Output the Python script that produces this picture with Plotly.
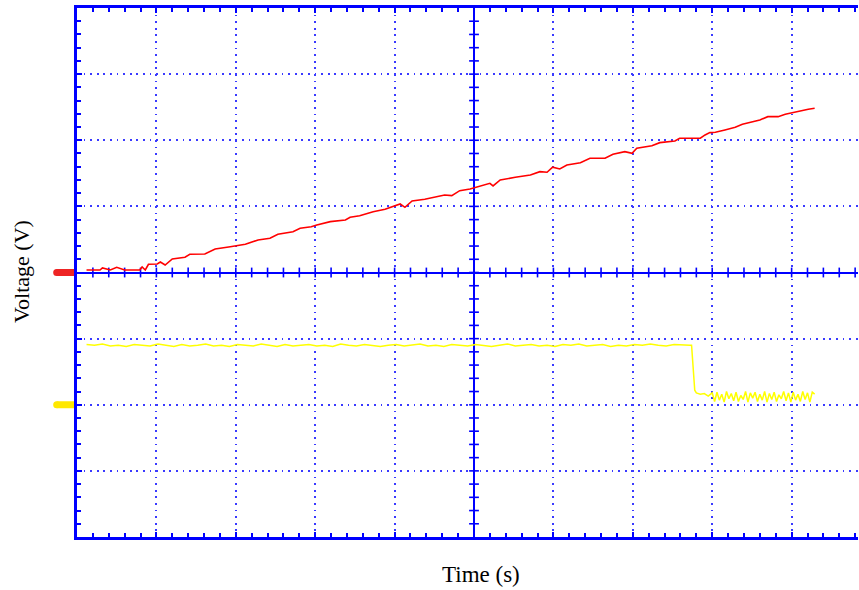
import numpy as np
import plotly.graph_objects as go

# Screen is 10 horizontal x 8 vertical divisions, centred on (0, 0).
# Values below are in divisions.

# Channel 1 (red): ramp
ch1_t = [-4.88, -4.71, -4.68, -4.58, -4.50, -4.40, -4.21, -4.18, -4.14, -4.10,
         -3.99, -3.95, -3.89, -3.80, -3.64, -3.58, -3.39, -3.26, -3.07, -2.98,
         -2.88, -2.72, -2.57, -2.47, -2.28, -2.19, -2.05, -1.98, -1.81, -1.62,
         -1.56, -1.44, -1.27, -1.12, -1.03, -0.93, -0.87, -0.78, -0.62, -0.49,
         -0.37, -0.28, -0.18, -0.05, 0.08, 0.20, 0.24, 0.33, 0.52, 0.71,
         0.83, 0.92, 0.99, 1.08, 1.17, 1.34, 1.46, 1.65, 1.75, 1.90,
         1.99, 2.05, 2.24, 2.34, 2.53, 2.59, 2.85, 2.91, 2.97, 3.04,
         3.16, 3.29, 3.38, 3.48, 3.60, 3.70, 3.83, 3.92, 4.01, 4.11,
         4.21, 4.29]
ch1_v = [0.038, 0.038, 0.068, 0.038, 0.079, 0.038, 0.038, 0.083, 0.038, 0.124,
         0.129, 0.159, 0.113, 0.204, 0.230, 0.275, 0.280, 0.356, 0.390, 0.405,
         0.427, 0.492, 0.517, 0.578, 0.617, 0.669, 0.693, 0.719, 0.769, 0.794,
         0.835, 0.859, 0.920, 0.956, 0.995, 1.036, 0.986, 1.082, 1.107, 1.138,
         1.172, 1.162, 1.238, 1.263, 1.313, 1.349, 1.309, 1.399, 1.440, 1.475,
         1.525, 1.516, 1.592, 1.566, 1.626, 1.661, 1.728, 1.728, 1.788, 1.828,
         1.803, 1.879, 1.918, 1.964, 1.989, 2.030, 2.030, 2.080, 2.115, 2.121,
         2.156, 2.197, 2.242, 2.272, 2.307, 2.357, 2.357, 2.393, 2.418, 2.443,
         2.469, 2.484]

# Channel 2 (yellow): high level, then a step down
ch2_t = [-4.88, -4.78, -4.68, -4.58, -4.48, -4.38, -4.28, -4.18, -4.08, -3.98,
         -3.88, -3.78, -3.68, -3.58, -3.48, -3.38, -3.28, -3.18, -3.08, -2.98,
         -2.88, -2.78, -2.68, -2.58, -2.48, -2.38, -2.28, -2.18, -2.08, -1.98,
         -1.88, -1.78, -1.68, -1.58, -1.48, -1.38, -1.28, -1.18, -1.08, -0.98,
         -0.88, -0.78, -0.68, -0.58, -0.48, -0.38, -0.28, -0.18, -0.08, 0.02,
         0.12, 0.22, 0.32, 0.42, 0.52, 0.62, 0.72, 0.82, 0.92, 1.02,
         1.12, 1.22, 1.32, 1.42, 1.52, 1.62, 1.72, 1.82, 1.92, 2.02,
         2.12, 2.22, 2.32, 2.42, 2.52, 2.62, 2.72,
         2.74, 2.76, 2.78, 2.80, 2.85, 2.90, 2.95,
         3.00, 3.03, 3.06, 3.09, 3.12, 3.15, 3.18, 3.21, 3.24, 3.27,
         3.30, 3.33, 3.36, 3.39, 3.42, 3.45, 3.48, 3.51, 3.54, 3.57,
         3.60, 3.63, 3.66, 3.69, 3.72, 3.75, 3.78, 3.81, 3.84, 3.87,
         3.90, 3.93, 3.96, 3.99, 4.02, 4.05, 4.08, 4.11, 4.14, 4.17,
         4.20, 4.23, 4.26, 4.29]
ch2_v = [-1.09, -1.10, -1.08, -1.11, -1.10, -1.12, -1.09, -1.10, -1.11, -1.08,
         -1.10, -1.12, -1.09, -1.11, -1.10, -1.08, -1.11, -1.10, -1.12, -1.09,
         -1.10, -1.11, -1.08, -1.10, -1.12, -1.09, -1.11, -1.10, -1.09, -1.11,
         -1.10, -1.12, -1.08, -1.10, -1.11, -1.09, -1.10, -1.12, -1.10, -1.09,
         -1.11, -1.10, -1.08, -1.11, -1.10, -1.12, -1.09, -1.10, -1.11, -1.09,
         -1.10, -1.12, -1.10, -1.08, -1.11, -1.10, -1.09, -1.11, -1.10, -1.12,
         -1.09, -1.10, -1.08, -1.11, -1.10, -1.09, -1.12, -1.10, -1.11, -1.09,
         -1.10, -1.08, -1.10, -1.11, -1.09, -1.10, -1.10,
         -1.10, -1.45, -1.78, -1.82, -1.84, -1.83, -1.87,
         -1.82, -1.95, -1.81, -1.93, -1.84, -1.96, -1.80, -1.91, -1.83, -1.94,
         -1.81, -1.95, -1.86, -1.92, -1.80, -1.96, -1.82, -1.90, -1.81, -1.95,
         -1.84, -1.93, -1.80, -1.96, -1.83, -1.92, -1.81, -1.95, -1.85, -1.91,
         -1.80, -1.94, -1.82, -1.96, -1.81, -1.93, -1.84, -1.95, -1.80, -1.92,
         -1.82, -1.96, -1.81, -1.84]

# Ground reference levels of the two channels
ch1_ground = 0
ch2_ground = -2

BLUE = "#0000ff"
GRID = "#3a3aff"

fig = go.Figure()

# Minor ticks along the centre cross-hair
minor_x = np.round(np.arange(-4.8, 4.81, 0.2), 2)
minor_y = np.round(np.arange(-3.8, 3.81, 0.2), 2)
fig.add_trace(go.Scatter(
    x=minor_x, y=np.zeros_like(minor_x), mode="markers", hoverinfo="skip",
    marker=dict(symbol="line-ns", size=7, line=dict(width=1.6, color=BLUE)),
    showlegend=False))
fig.add_trace(go.Scatter(
    x=np.zeros_like(minor_y), y=minor_y, mode="markers", hoverinfo="skip",
    marker=dict(symbol="line-ew", size=7, line=dict(width=1.6, color=BLUE)),
    showlegend=False))

fig.add_trace(go.Scatter(x=ch1_t, y=ch1_v, mode="lines",
                         line=dict(color="#ff0000", width=1.6), showlegend=False))
fig.add_trace(go.Scatter(x=ch2_t, y=ch2_v, mode="lines",
                         line=dict(color="#ffff00", width=1.5), showlegend=False))

# Channel ground markers at the left edge of the screen
for lvl, col in [(ch1_ground, "#ee2424"), (ch2_ground, "#ffe800")]:
    fig.add_shape(type="line", xref="paper", yref="y", x0=-0.026, x1=0,
                  y0=lvl, y1=lvl, line=dict(color=col, width=7), layer="below")
    fig.add_shape(type="circle", xref="paper", yref="y", x0=-0.0305, x1=-0.0215,
                  y0=lvl - 0.053, y1=lvl + 0.053, line=dict(width=0),
                  fillcolor=col, layer="below")

axis_common = dict(
    showgrid=True, gridcolor=GRID, gridwidth=1.5, griddash="1.8px,4.8px",
    dtick=1, tick0=0,
    zeroline=True, zerolinecolor=BLUE, zerolinewidth=2.2,
    showline=True, linecolor=BLUE, linewidth=2.5,
    ticks="inside", ticklen=5, tickwidth=1.8, tickcolor=BLUE,
    minor=dict(dtick=0.2, tick0=0, ticks="inside", ticklen=4, tickwidth=1.5,
               tickcolor=BLUE, showgrid=False),
    showticklabels=False, fixedrange=True,
)

fig.update_xaxes(range=[-5, 4.836], mirror="ticks", **axis_common)
fig.update_yaxes(range=[-4, 4], mirror=False, **axis_common)

fig.add_annotation(text="Voltage (V)", xref="paper", yref="paper",
                   x=-0.0704, y=0.501, textangle=-90, showarrow=False,
                   xanchor="center", yanchor="middle",
                   font=dict(family="Liberation Serif", size=22, color="black"))
fig.add_annotation(text="Time (s)", xref="paper", yref="paper",
                   x=0.517, y=-0.070, showarrow=False,
                   xanchor="center", yanchor="middle",
                   font=dict(family="Liberation Serif", size=23, color="black"))

fig.update_layout(
    width=859, height=590,
    margin=dict(l=77, r=1, t=8, b=53),
    paper_bgcolor="white", plot_bgcolor="white",
)

fig.write_html("out.html")
